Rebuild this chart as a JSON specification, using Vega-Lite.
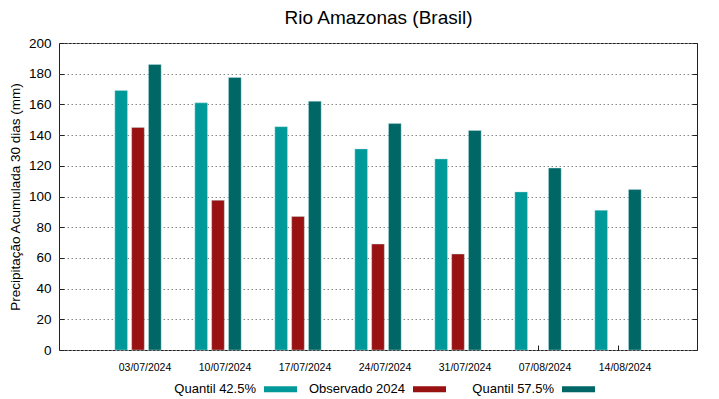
{
  "$schema": "https://vega.github.io/schema/vega-lite/v6.json",
  "width": 638,
  "height": 307,
  "autosize": {"type": "none"},
  "padding": {"left": 59, "top": 43, "right": 22, "bottom": 49},
  "background": "white",
  "config": {
    "font": "Liberation Sans",
    "view": {"stroke": "#222", "strokeWidth": 1},
    "axis": {"labelFont": "Liberation Sans", "titleFont": "Liberation Sans", "labelColor": "#000", "titleColor": "#000", "titleFontWeight": "normal", "domain": false, "tickColor": "#222"},
    "legend": {"labelFont": "Liberation Sans", "labelFontSize": 13, "labelColor": "#000"}
  },
  "data": {"values": [
    {"date": "03/07/2024", "serie": "Quantil 42.5%", "value": 169},
    {"date": "03/07/2024", "serie": "Observado 2024", "value": 145},
    {"date": "03/07/2024", "serie": "Quantil 57.5%", "value": 186},
    {"date": "10/07/2024", "serie": "Quantil 42.5%", "value": 161},
    {"date": "10/07/2024", "serie": "Observado 2024", "value": 97.5},
    {"date": "10/07/2024", "serie": "Quantil 57.5%", "value": 177.5},
    {"date": "17/07/2024", "serie": "Quantil 42.5%", "value": 145.5},
    {"date": "17/07/2024", "serie": "Observado 2024", "value": 87},
    {"date": "17/07/2024", "serie": "Quantil 57.5%", "value": 162},
    {"date": "24/07/2024", "serie": "Quantil 42.5%", "value": 131},
    {"date": "24/07/2024", "serie": "Observado 2024", "value": 69},
    {"date": "24/07/2024", "serie": "Quantil 57.5%", "value": 147.5},
    {"date": "31/07/2024", "serie": "Quantil 42.5%", "value": 124.5},
    {"date": "31/07/2024", "serie": "Observado 2024", "value": 62.5},
    {"date": "31/07/2024", "serie": "Quantil 57.5%", "value": 143},
    {"date": "07/08/2024", "serie": "Quantil 42.5%", "value": 103},
    {"date": "07/08/2024", "serie": "Quantil 57.5%", "value": 118.5},
    {"date": "14/08/2024", "serie": "Quantil 42.5%", "value": 91},
    {"date": "14/08/2024", "serie": "Quantil 57.5%", "value": 104.5}
  ]},
  "layer": [
    {
      "mark": {"type": "bar", "stroke": "#bfe6e6", "strokeWidth": 0.4},
      "encoding": {
        "x": {"field": "date", "type": "nominal", "sort": null,
              "scale": {"paddingInner": 0, "paddingOuter": 0.4875},
              "axis": {"title": null, "labelAngle": 0, "labelFontSize": 10.5, "tickSize": -5, "labelPadding": 17, "labelOffset": 7}},
        "xOffset": {"field": "serie", "type": "nominal",
                    "sort": ["Quantil 42.5%", "Observado 2024", "Quantil 57.5%"],
                    "scale": {"domain": ["Quantil 42.5%", "Observado 2024", "Quantil 57.5%"], "paddingInner": 0.25, "paddingOuter": 1.125}},
        "y": {"field": "value", "type": "quantitative",
              "scale": {"domain": [0, 200], "nice": false},
              "axis": {"title": "Precipitação Acumulada 30 dias (mm)", "titleFontSize": 13.5, "titlePadding": 6, "labelFontSize": 13.5, "values": [0,20,40,60,80,100,120,140,160,180,200], "tickSize": -5, "labelPadding": 13, "grid": true, "gridDash": [1.5, 2.5], "gridColor": "#888", "gridWidth": 1}},
        "color": {"field": "serie", "type": "nominal",
                  "scale": {"domain": ["Quantil 42.5%", "Observado 2024", "Quantil 57.5%"], "range": ["#009999", "#991111", "#006666"]},
                  "legend": {"title": null, "orient": "none", "legendX": 205, "legendY": 329.5, "direction": "horizontal", "columns": 3, "gridAlign": "all",
                             "symbolType": "M-1,-0.18H1V0.18H-1Z", "symbolSize": 1089, "symbolStrokeWidth": 0,
                             "labelAlign": "right", "labelOffset": -41, "columnPadding": 11}}
      }
    },
    {
      "mark": {"type": "bar", "opacity": 0},
      "encoding": {
        "x": {"field": "date", "type": "nominal", "sort": null,
              "axis": {"orient": "top", "title": "Rio Amazonas (Brasil)", "titleFontSize": 19, "titlePadding": 16, "labels": false, "ticks": false, "grid": false}},
        "y": {"field": "value", "type": "quantitative",
              "axis": {"orient": "right", "title": null, "labels": false, "values": [0,20,40,60,80,100,120,140,160,180,200], "tickSize": -5, "grid": false}}
      }
    }
  ],
  "resolve": {"axis": {"y": "independent", "x": "independent"}}
}
